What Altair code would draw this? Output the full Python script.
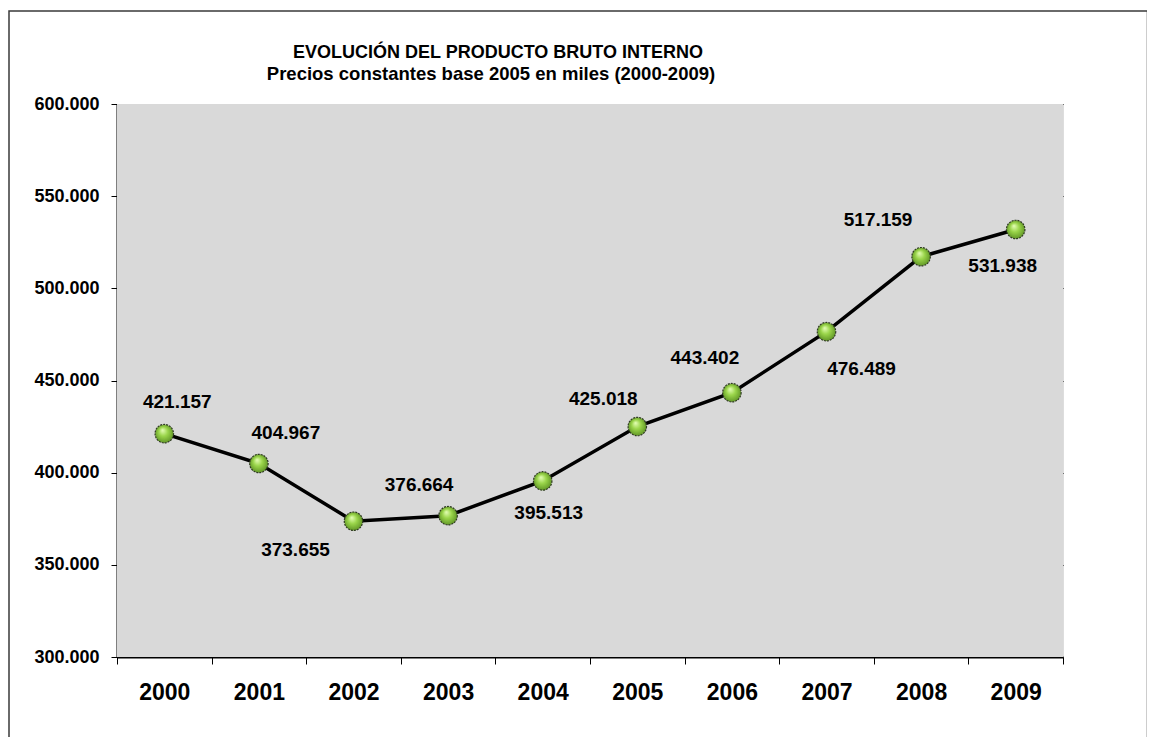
import altair as alt
import pandas as pd

# ---- data -----------------------------------------------------------------
years = ["2000", "2001", "2002", "2003", "2004", "2005", "2006", "2007", "2008", "2009"]
pbi = [421157, 404967, 373655, 376664, 395513, 425018, 443402, 476489, 517159, 531938]
y_ticks = [300000, 350000, 400000, 450000, 500000, 550000, 600000]
title_lines = ["EVOLUCIÓN DEL PRODUCTO BRUTO INTERNO",
               "Precios constantes base 2005 en miles (2000-2009)"]

# ---- style: label offsets (pixels) relative to each point ------------------
label_offsets = {
    "2000": (13, -32), "2001": (27, -31), "2002": (-58, 29), "2003": (-29, -31),
    "2004": (6, 32), "2005": (-34, -28), "2006": (-27, -35), "2007": (35, 37),
    "2008": (-43, -37), "2009": (-13, 37),
}

FONT = "Liberation Sans"
W, H = 946, 553

df = pd.DataFrame({"anio": years, "pbi": pbi})
df["etiqueta"] = [f"{v:,}".replace(",", ".") for v in pbi]

x_enc = alt.X(
    "anio:N", sort=years,
    scale=alt.Scale(type="band", paddingInner=0, paddingOuter=0),
    axis=alt.Axis(title=None, labelAngle=0, labelFontSize=23, labelFont=FONT,
                  labelFontWeight="bold", labelColor="black", tickBand="extent",
                  tickSize=7, tickColor="black", tickWidth=1, domainColor="black",
                  domainWidth=2, labelPadding=17, grid=False),
)
y_enc = alt.Y(
    "pbi:Q",
    scale=alt.Scale(domain=[300000, 600000], zero=False, nice=False),
    axis=alt.Axis(title=None, values=y_ticks,
                  labelExpr="replace(format(datum.value, ','), ',', '.')",
                  labelFontSize=18, labelFont=FONT, labelFontWeight="bold",
                  labelColor="black", tickSize=6, tickColor="black",
                  domainColor="black", domainWidth=2, labelPadding=12,
                  grid=True, gridColor="black", gridWidth=1, gridOpacity=1),
)

title_df = pd.DataFrame({"linea": title_lines, "orden": [0, 1]})

plot_bg = alt.Chart(title_df).transform_filter(alt.datum.orden == 0).mark_rect(
    fill="#d9d9d9", stroke=None
).encode(x=alt.value(0), x2=alt.value(W), y=alt.value(0), y2=alt.value(H))

frame = alt.Chart(title_df).transform_filter(alt.datum.orden == 0).mark_rect(
    fill=None, stroke="#3a3a3a", strokeWidth=1.5, clip=False
).encode(x=alt.value(-108), x2=alt.value(1030.5), y=alt.value(-93), y2=alt.value(700))

title1 = alt.Chart(title_df).transform_filter(alt.datum.orden == 0).mark_text(
    font=FONT, fontSize=18, fontWeight="bold", color="black",
    align="center", baseline="alphabetic"
).encode(x=alt.value(381), y=alt.value(-46), text="linea:N")

title2 = alt.Chart(title_df).transform_filter(alt.datum.orden == 1).mark_text(
    font=FONT, fontSize=18.5, fontWeight="bold", color="black",
    align="center", baseline="alphabetic"
).encode(x=alt.value(374), y=alt.value(-24), text="linea:N")

base = alt.Chart(df).encode(x=x_enc, y=y_enc)

line = base.mark_line(color="black", strokeWidth=3.5)

ball = alt.RadialGradient(
    gradient="radial",
    stops=[alt.GradientStop(offset=0, color="#e6ffb8"),
           alt.GradientStop(offset=0.45, color="#9ad54a"),
           alt.GradientStop(offset=1, color="#5a8f22")],
    x1=0.4, y1=0.3, r1=0.0, x2=0.5, y2=0.5, r2=0.55,
)
points = base.mark_point(filled=True, shape="circle", size=340, fill=ball,
                         opacity=1, stroke="#2f3a22", strokeWidth=1.2,
                         strokeDash=[2, 1])

labels = []
for yr in years:
    dx, dy = label_offsets[yr]
    labels.append(
        base.transform_filter(alt.datum.anio == yr).mark_text(
            dx=dx, dy=dy, font=FONT, fontSize=19, fontWeight="bold",
            color="black", align="center", baseline="middle"
        ).encode(text="etiqueta:N")
    )

chart = alt.layer(plot_bg, frame, title1, title2, line, points, *labels).properties(
    width=W, height=H,
    autosize=alt.AutoSizeParams(type="none"),
    padding={"left": 109, "top": 96, "right": 84, "bottom": 80},
).configure_view(strokeWidth=0).configure(background="white")

chart.save("out.html", embed_options={"renderer": "svg", "actions": False})
